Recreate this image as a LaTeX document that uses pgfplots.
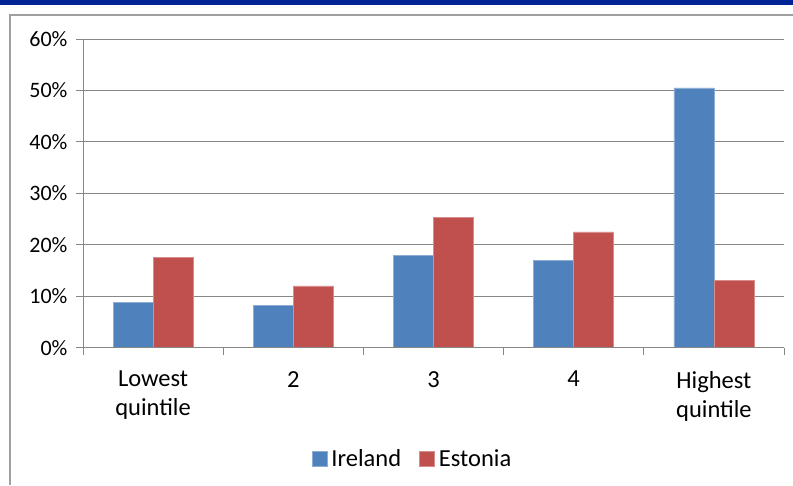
\documentclass[border=0pt]{standalone}
\usepackage{pgfplots}
\pgfplotsset{compat=1.18}
\usepackage{fontspec}
\setmainfont{Carlito}

\definecolor{ireland}{HTML}{4F81BD}
\definecolor{estonia}{HTML}{C0504D}
\definecolor{bandblue}{HTML}{002496}
\definecolor{gridgray}{HTML}{878787}
\definecolor{framegray}{HTML}{A0A0A0}

\begin{document}
\begin{tikzpicture}[x=1pt,y=1pt]
  \useasboundingbox (0,0) rectangle (793,485);
  % header strip and chart frame
  \fill[bandblue] (0,480.3) rectangle (793,485);
  \draw[framegray, line width=1.3pt] (10,0) -- (10,470) -- (793,470);

  \begin{axis}[
    at={(83pt,137.3pt)}, anchor=south west,
    scale only axis, width=701pt, height=308.7pt,
    xmin=-0.5, xmax=4.5, ymin=0, ymax=60,
    ybar=0pt, bar width=40pt,
    axis line style={draw=none},
    ytick={0,10,...,60},
    yticklabel={\pgfmathprintnumber{\tick}\%},
    xtick={0,1,2,3,4},
    xticklabels={Lowest\\quintile,2,3,4,Highest\\quintile},
    minor xtick={-0.5,0.5,...,4.5},
    tick align=outside,
    xtick pos=left, ytick pos=left,
    major tick length=7pt, minor tick length=7pt,
    every tick/.style={gridgray, line width=1pt},
    major x tick style={draw=none},
    ymajorgrids, grid style={gridgray, line width=1pt},
    /pgf/number format/assume math mode=true,
    yticklabel style={font=\fontsize{22}{26}\selectfont, text=black, xshift=-5pt},
    xticklabel style={font=\fontsize{24.5}{29}\selectfont, text=black,
      align=center, yshift=-13pt},
    legend style={at={(0.4715,-0.3596)}, anchor=center, draw=none,
      font=\fontsize{24.5}{28}\selectfont, legend columns=2,
      /tikz/every even column/.append style={column sep=14pt},
      nodes={inner xsep=4pt}},
    legend image code/.code={\fill[#1] (0pt,-7.5pt) rectangle (15pt,7.5pt);},
    after end axis/.code={
      \draw[gridgray, line width=1pt]
        (rel axis cs:0,1) -- (rel axis cs:0,0) -- (rel axis cs:1,0);
    },
  ]
    \addplot[fill=ireland, draw=ireland!65!white, line width=0.7pt]
      coordinates {(0,8.8) (1,8.2) (2,17.9) (3,16.9) (4,50.5)};
    \addplot[fill=estonia, draw=estonia!65!white, line width=0.7pt]
      coordinates {(0,17.6) (1,12.0) (2,25.3) (3,22.5) (4,13.0)};
    \legend{Ireland, Estonia}
  \end{axis}
\end{tikzpicture}
\end{document}
